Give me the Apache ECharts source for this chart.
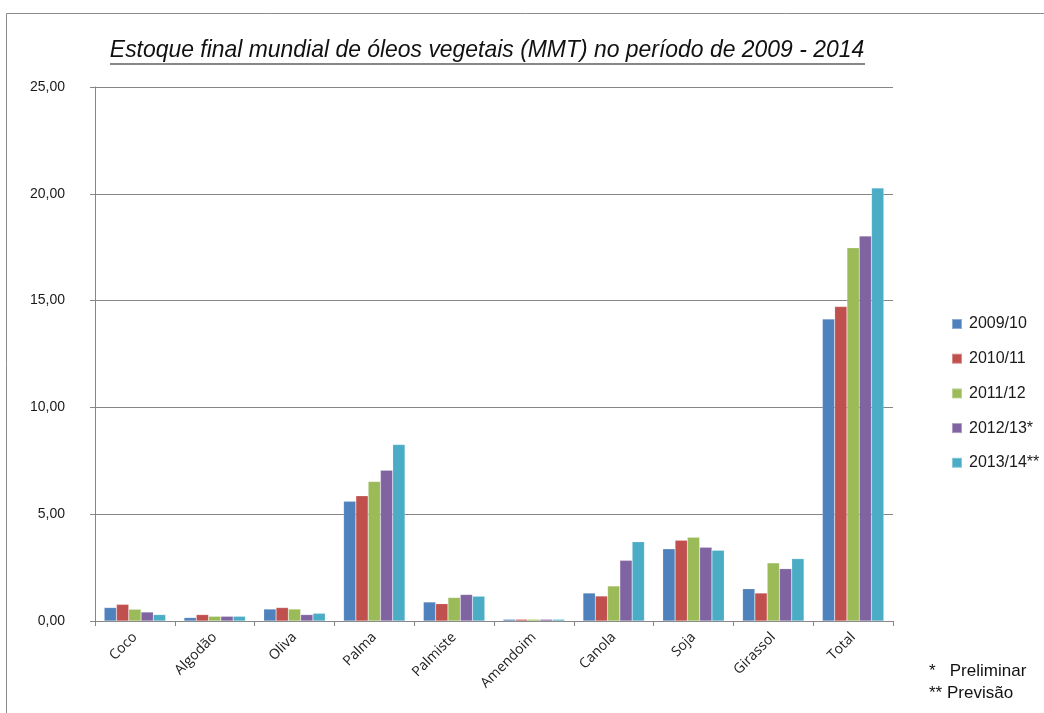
<!DOCTYPE html>
<html><head><meta charset="utf-8">
<script src="https://cdn.jsdelivr.net/npm/echarts@6/dist/echarts.min.js"></script>
<style>html,body{margin:0;padding:0;background:#fff}#c{width:1044px;height:713px}</style>
</head><body><div id="c"></div>
<script>
const categories = ['Coco','Algodão','Oliva','Palma','Palmiste','Amendoim','Canola','Soja','Girassol','Total'];
const seriesNames = ['2009/10','2010/11','2011/12','2012/13*','2013/14**'];
const s2009 = [0.63, 0.16, 0.56, 5.61, 0.89, 0.08, 1.31, 3.38, 1.51, 14.14];
const s2010 = [0.78, 0.30, 0.63, 5.86, 0.81, 0.08, 1.17, 3.78, 1.31, 14.72];
const s2011 = [0.55, 0.22, 0.56, 6.53, 1.10, 0.08, 1.64, 3.92, 2.72, 17.47];
const s2012 = [0.42, 0.22, 0.30, 7.06, 1.24, 0.08, 2.84, 3.45, 2.45, 18.02];
const s2013 = [0.30, 0.22, 0.36, 8.26, 1.16, 0.08, 3.71, 3.31, 2.92, 20.27];
const colors = ['#4F81BD','#C0504D','#9BBB59','#8064A2','#4BACC6'];
const title = 'Estoque final mundial de óleos vegetais (MMT) no período de 2009 - 2014';
const footnotes = ['*   Preliminar', '** Previsão'];

const data = [s2009, s2010, s2011, s2012, s2013];
const chart = echarts.init(document.getElementById('c'));
const FONT = '"Liberation Sans", Arial, sans-serif';
chart.setOption({
  animation: false,
  color: colors,
  grid: {left: 95, right: 151, top: 87, bottom: 92, containLabel: false},
  legend: {
    orient: 'vertical', left: 946, top: 311, itemGap: 18.7,
    itemWidth: 10, itemHeight: 10, icon: 'rect',
    textStyle: {fontFamily: FONT, fontSize: 16, color: '#1a1a1a', padding: [0,0,0,2]},
    data: seriesNames
  },
  xAxis: {
    type: 'category', data: categories,
    axisLine: {lineStyle: {color: '#868686', width: 1}},
    axisTick: {show: true, length: 5, lineStyle: {color: '#868686'}},
    axisLabel: {rotate: 45, margin: 14, fontFamily: '"Open Sans", "Noto Sans", sans-serif', fontSize: 14, color: '#222'},
    splitLine: {show: false}
  },
  yAxis: {
    type: 'value', min: 0, max: 25, interval: 5,
    axisLine: {show: true, lineStyle: {color: '#868686'}},
    axisTick: {show: true, length: 5, lineStyle: {color: '#868686'}},
    axisLabel: {margin: 30, fontFamily: FONT, fontSize: 14, color: '#1a1a1a',
      formatter: v => v.toFixed(2).replace('.', ',')},
    splitLine: {lineStyle: {color: '#868686', width: 1}}
  },
  series: seriesNames.map((n, i) => ({
    name: n, type: 'bar', data: data[i],
    barGap: '0%', barCategoryGap: '23%',
    itemStyle: {color: colors[i], borderColor: 'rgba(255,255,255,0.35)', borderWidth: 0.5}
  })),
  graphic: [
    {type: 'rect', left: 4, top: 11, shape: {width: 1200, height: 800},
      style: {fill: 'none', stroke: '#8c8c8c', lineWidth: 1}, silent: true, z: -1},
    {type: 'text', x: 487, y: 62, scaleX: 0.955,
      style: {text: title, font: 'italic 24px "Liberation Sans", Arial, sans-serif', fill: '#111', align: 'center', verticalAlign: 'bottom'}},
    {type: 'line', shape: {x1: 110, y1: 64, x2: 865, y2: 64}, style: {stroke: '#111', lineWidth: 1.2}},
    {type: 'text', left: 929, top: 663, style: {text: footnotes[0], font: '17px "Liberation Sans", Arial, sans-serif', fill: '#111'}},
    {type: 'text', left: 929, top: 685, style: {text: footnotes[1], font: '17px "Liberation Sans", Arial, sans-serif', fill: '#111'}}
  ]
});
</script></body></html>
